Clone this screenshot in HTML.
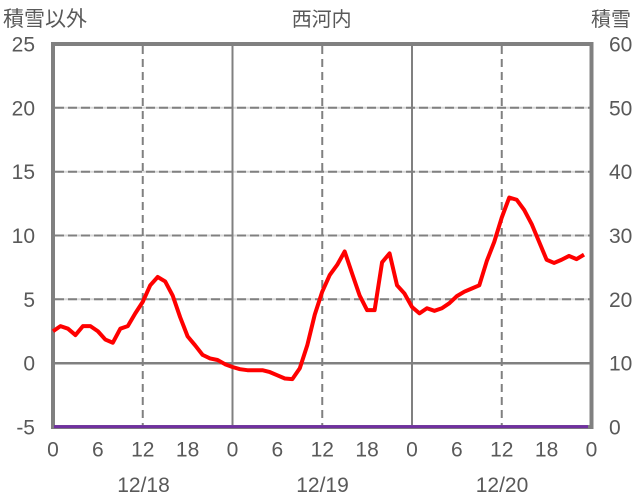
<!DOCTYPE html>
<html>
<head>
<meta charset="utf-8">
<style>
  html, body { margin: 0; padding: 0; background: #ffffff; }
  svg { display: block; }
  text { font-family: "Liberation Sans", "Noto Sans CJK JP", sans-serif; fill: #595959; }
</style>
</head>
<body>
<svg width="636" height="501" viewBox="0 0 636 501" xmlns="http://www.w3.org/2000/svg">
  <rect x="0" y="0" width="636" height="501" fill="#ffffff"/>

  <!-- titles -->
  <text x="3" y="26" font-size="21">積雪以外</text>
  <text x="321.7" y="26" font-size="20" text-anchor="middle">西河内</text>
  <text x="631" y="26" font-size="20" text-anchor="end">積雪</text>

  <!-- horizontal dashed gridlines -->
  <g stroke-width="2">
    <g stroke="#d9d9d9">
      <line x1="53" y1="107.8" x2="591.5" y2="107.8"/>
      <line x1="53" y1="171.7" x2="591.5" y2="171.7"/>
      <line x1="53" y1="235.5" x2="591.5" y2="235.5"/>
      <line x1="53" y1="299.3" x2="591.5" y2="299.3"/>
    </g>
    <g stroke="#808080" stroke-dasharray="9,4">
      <line x1="55" y1="107.8" x2="591.5" y2="107.8"/>
      <line x1="55" y1="171.7" x2="591.5" y2="171.7"/>
      <line x1="55" y1="235.5" x2="591.5" y2="235.5"/>
      <line x1="55" y1="299.3" x2="591.5" y2="299.3"/>
    </g>
    <!-- vertical dashed -->
    <g stroke="#808080" stroke-dasharray="8,5">
      <line x1="142.75" y1="46" x2="142.75" y2="427"/>
      <line x1="322.25" y1="46" x2="322.25" y2="427"/>
      <line x1="501.75" y1="46" x2="501.75" y2="427"/>
    </g>
    <!-- vertical solid -->
    <g stroke="#808080">
      <line x1="232.5" y1="44" x2="232.5" y2="427"/>
      <line x1="412" y1="44" x2="412" y2="427"/>
    </g>
  </g>
  <!-- zero line -->
  <line x1="53" y1="363.2" x2="591.5" y2="363.2" stroke="#808080" stroke-width="2.5"/>

  <!-- plot border -->
  <rect x="53" y="44" width="538.5" height="383" fill="none" stroke="#808080" stroke-width="4"/>

  <!-- snow series (purple) -->
  <line x1="54" y1="426.6" x2="588" y2="426.6" stroke="#7030A0" stroke-width="3"/>

  <!-- red series -->
  <g transform="translate(53,363.17) scale(7.479,-12.767)">
    <polyline fill="none" stroke="#ff0000" stroke-width="4" stroke-linejoin="round" stroke-linecap="butt" vector-effect="non-scaling-stroke"
      points="0,2.5 1,2.9 2,2.7 3,2.2 4,2.9 5,2.9 6,2.5 7,1.85 8,1.6 9,2.7 10,2.9 11,3.9 12,4.8 13,6.1 14,6.75 15,6.4 16,5.3 17,3.6 18,2.1 19,1.4 20,0.65 21,0.37 22,0.25 23,-0.08 24,-0.3 25,-0.47 26,-0.55 27,-0.55 28,-0.55 29,-0.7 30,-0.95 31,-1.2 32,-1.25 33,-0.4 34,1.4 35,3.8 36,5.6 37,6.9 38,7.7 39,8.75 40,7.0 41,5.3 42,4.15 43,4.15 44,7.9 45,8.6 46,6.1 47,5.45 48,4.4 49,3.9 50,4.3 51,4.1 52,4.3 53,4.7 54,5.25 55,5.6 56,5.85 57,6.1 58,8.0 59,9.5 60,11.4 61,12.97 62,12.8 63,12.0 64,10.9 65,9.5 66,8.1 67,7.85 68,8.1 69,8.4 70,8.15 71,8.5"/>
  </g>

  <!-- left axis labels -->
  <g font-size="21" text-anchor="end">
    <text x="35" y="51.5">25</text>
    <text x="35" y="115.3">20</text>
    <text x="35" y="179.2">15</text>
    <text x="35" y="243">10</text>
    <text x="35" y="306.8">5</text>
    <text x="35" y="370.7">0</text>
    <text x="35" y="434.5">-5</text>
  </g>

  <!-- right axis labels -->
  <g font-size="21" text-anchor="start">
    <text x="609" y="51.5">60</text>
    <text x="609" y="115.3">50</text>
    <text x="609" y="179.2">40</text>
    <text x="609" y="243">30</text>
    <text x="609" y="306.8">20</text>
    <text x="609" y="370.7">10</text>
    <text x="609" y="434.5">0</text>
  </g>

  <!-- x hour labels -->
  <g font-size="21" text-anchor="middle">
    <text x="53" y="456.5">0</text>
    <text x="97.9" y="456.5">6</text>
    <text x="142.75" y="456.5">12</text>
    <text x="187.6" y="456.5">18</text>
    <text x="232.5" y="456.5">0</text>
    <text x="277.4" y="456.5">6</text>
    <text x="322.25" y="456.5">12</text>
    <text x="367.1" y="456.5">18</text>
    <text x="412" y="456.5">0</text>
    <text x="456.9" y="456.5">6</text>
    <text x="501.75" y="456.5">12</text>
    <text x="546.6" y="456.5">18</text>
    <text x="591.5" y="456.5">0</text>
  </g>

  <!-- date labels -->
  <g font-size="21" text-anchor="middle">
    <text x="143.5" y="492">12/18</text>
    <text x="322.5" y="492">12/19</text>
    <text x="502" y="492">12/20</text>
  </g>
</svg>
</body>
</html>
